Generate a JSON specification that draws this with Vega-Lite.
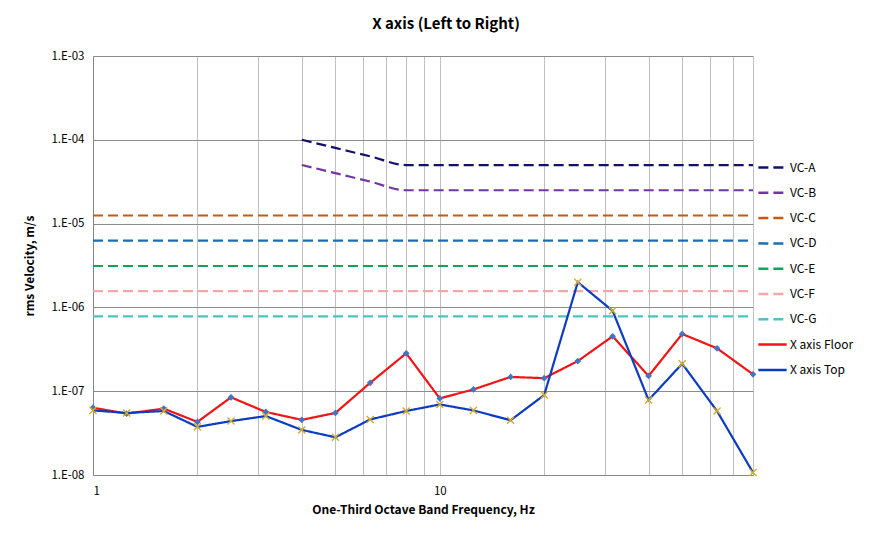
{
  "$schema": "https://vega.github.io/schema/vega-lite/v6.json",
  "description": "Vibration criteria curves with measured X axis velocities, floor and top.",
  "autosize": "none",
  "width": 660,
  "height": 419,
  "padding": {"left": 93, "top": 56, "right": 139, "bottom": 72},
  "background": "white",
  "title": {
    "text": "X axis (Left to Right)",
    "font": "Noto Sans CJK KR",
    "fontSize": 15,
    "fontWeight": "bold",
    "color": "#000000",
    "anchor": "middle",
    "dx": 23,
    "offset": 18
  },
  "config": {
    "view": {"stroke": null},
    "font": "Noto Sans CJK KR",
    "axis": {
      "labelFont": "Noto Sans CJK KR",
      "titleFont": "Noto Sans CJK KR",
      "labelColor": "#000000",
      "titleColor": "#000000",
      "labelFontSize": 11.5,
      "titleFontSize": 12,
      "titleFontWeight": "bold",
      "ticks": false,
      "domainColor": "#868686",
      "domainWidth": 1
    }
  },
  "data": {
    "values": [
      {"f": 4, "v": 1.0e-4, "s": "VC-A"},
      {"f": 5, "v": 8.0e-5, "s": "VC-A"},
      {"f": 6.3, "v": 6.35e-5, "s": "VC-A"},
      {"f": 8, "v": 5.0e-5, "s": "VC-A"},
      {"f": 10, "v": 5.0e-5, "s": "VC-A"},
      {"f": 80, "v": 5.0e-5, "s": "VC-A"},
      {"f": 4, "v": 5.0e-5, "s": "VC-B"},
      {"f": 5, "v": 4.0e-5, "s": "VC-B"},
      {"f": 6.3, "v": 3.17e-5, "s": "VC-B"},
      {"f": 8, "v": 2.5e-5, "s": "VC-B"},
      {"f": 10, "v": 2.5e-5, "s": "VC-B"},
      {"f": 80, "v": 2.5e-5, "s": "VC-B"},
      {"f": 1, "v": 1.25e-5, "s": "VC-C"},
      {"f": 80, "v": 1.25e-5, "s": "VC-C"},
      {"f": 1, "v": 6.25e-6, "s": "VC-D"},
      {"f": 80, "v": 6.25e-6, "s": "VC-D"},
      {"f": 1, "v": 3.12e-6, "s": "VC-E"},
      {"f": 80, "v": 3.12e-6, "s": "VC-E"},
      {"f": 1, "v": 1.56e-6, "s": "VC-F"},
      {"f": 80, "v": 1.56e-6, "s": "VC-F"},
      {"f": 1, "v": 7.8e-7, "s": "VC-G"},
      {"f": 80, "v": 7.8e-7, "s": "VC-G"},
      {"f": 1, "v": 6.35e-8, "s": "X axis Floor"},
      {"f": 1.25, "v": 5.4e-8, "s": "X axis Floor"},
      {"f": 1.6, "v": 6.2e-8, "s": "X axis Floor"},
      {"f": 2, "v": 4.3e-8, "s": "X axis Floor"},
      {"f": 2.5, "v": 8.45e-8, "s": "X axis Floor"},
      {"f": 3.15, "v": 5.65e-8, "s": "X axis Floor"},
      {"f": 4, "v": 4.55e-8, "s": "X axis Floor"},
      {"f": 5, "v": 5.5e-8, "s": "X axis Floor"},
      {"f": 6.3, "v": 1.26e-7, "s": "X axis Floor"},
      {"f": 8, "v": 2.83e-7, "s": "X axis Floor"},
      {"f": 10, "v": 8.2e-8, "s": "X axis Floor"},
      {"f": 12.5, "v": 1.05e-7, "s": "X axis Floor"},
      {"f": 16, "v": 1.48e-7, "s": "X axis Floor"},
      {"f": 20, "v": 1.43e-7, "s": "X axis Floor"},
      {"f": 25, "v": 2.29e-7, "s": "X axis Floor"},
      {"f": 31.5, "v": 4.52e-7, "s": "X axis Floor"},
      {"f": 40, "v": 1.52e-7, "s": "X axis Floor"},
      {"f": 50, "v": 4.82e-7, "s": "X axis Floor"},
      {"f": 63, "v": 3.25e-7, "s": "X axis Floor"},
      {"f": 80, "v": 1.59e-7, "s": "X axis Floor"},
      {"f": 1, "v": 5.9e-8, "s": "X axis Top"},
      {"f": 1.25, "v": 5.5e-8, "s": "X axis Top"},
      {"f": 1.6, "v": 5.8e-8, "s": "X axis Top"},
      {"f": 2, "v": 3.75e-8, "s": "X axis Top"},
      {"f": 2.5, "v": 4.4e-8, "s": "X axis Top"},
      {"f": 3.15, "v": 5.05e-8, "s": "X axis Top"},
      {"f": 4, "v": 3.45e-8, "s": "X axis Top"},
      {"f": 5, "v": 2.82e-8, "s": "X axis Top"},
      {"f": 6.3, "v": 4.6e-8, "s": "X axis Top"},
      {"f": 8, "v": 5.8e-8, "s": "X axis Top"},
      {"f": 10, "v": 6.95e-8, "s": "X axis Top"},
      {"f": 12.5, "v": 5.9e-8, "s": "X axis Top"},
      {"f": 16, "v": 4.5e-8, "s": "X axis Top"},
      {"f": 20, "v": 9.0e-8, "s": "X axis Top"},
      {"f": 25, "v": 2.0e-6, "s": "X axis Top"},
      {"f": 31.5, "v": 9.1e-7, "s": "X axis Top"},
      {"f": 40, "v": 7.85e-8, "s": "X axis Top"},
      {"f": 50, "v": 2.13e-7, "s": "X axis Top"},
      {"f": 63, "v": 5.8e-8, "s": "X axis Top"},
      {"f": 80, "v": 1.07e-8, "s": "X axis Top"}
    ]
  },
  "encoding": {
    "x": {
      "field": "f",
      "type": "quantitative",
      "title": "One-Third Octave Band Frequency, Hz",
      "scale": {"type": "log", "domain": [1, 80], "nice": false},
      "axis": {
        "values": [1, 2, 3, 4, 5, 6, 7, 8, 9, 10, 20, 30, 40, 50, 60, 70, 80],
        "labelExpr": "datum.value == 1 || datum.value == 10 ? toString(datum.value) : ''",
        "labelPadding": 10,
        "titlePadding": 8,
        "gridColor": "#c0c0c0",
        "gridWidth": 1
      }
    },
    "y": {
      "field": "v",
      "type": "quantitative",
      "title": "rms Velocity, m/s",
      "scale": {"type": "log", "domain": [1e-8, 1e-3], "nice": false},
      "axis": {
        "values": [1e-8, 1e-7, 1e-6, 1e-5, 1e-4, 1e-3],
        "labelExpr": "'1.E-0' + round(-log(datum.value) / LN10)",
        "labelPadding": 9,
        "titlePadding": 14,
        "gridColor": "#8c8c8c",
        "gridWidth": 1
      }
    }
  },
  "layer": [
    {
      "transform": [{"filter": "indexof(datum.s, 'VC') == 0"}],
      "mark": {"type": "line", "interpolate": "monotone", "strokeWidth": 2.2},
      "encoding": {
        "color": {"field": "s", "type": "nominal",
          "scale": {
            "domain": ["VC-A", "VC-B", "VC-C", "VC-D", "VC-E", "VC-F", "VC-G", "X axis Floor", "X axis Top"],
            "range": ["#10106e", "#7236a3", "#c55a11", "#1c6eb4", "#13a35c", "#f4a7a7", "#4cc3c3", "#f01414", "#0c3cc0"]
          },
          "legend": {
            "title": null,
            "orient": "none",
            "legendX": 664,
            "legendY": 96,
            "symbolType": "stroke",
            "symbolSize": 800,
            "symbolStrokeWidth": 2.5,
            "labelFontSize": 12,
            "labelFont": "Noto Sans CJK KR",
            "labelColor": "#000000",
            "labelOffset": 2,
            "rowPadding": 3.3
          }
        },
        "strokeDash": {"field": "s", "type": "nominal",
          "scale": {
            "domain": ["VC-A", "VC-B", "VC-C", "VC-D", "VC-E", "VC-F", "VC-G", "X axis Floor", "X axis Top"],
            "range": [[10, 5], [10, 5], [10, 5], [10, 5], [10, 5], [10, 5], [10, 5], [1, 0], [1, 0]]
          }
        },
        "detail": {"field": "s"}
      }
    },
    {
      "transform": [{"filter": "datum.s == 'X axis Floor'"}],
      "mark": {"type": "line", "strokeWidth": 2.2},
      "encoding": {
        "color": {"field": "s", "type": "nominal"},
        "strokeDash": {"field": "s", "type": "nominal"}
      }
    },
    {
      "transform": [{"filter": "datum.s == 'X axis Floor'"}],
      "mark": {"type": "point", "shape": "diamond", "filled": true, "size": 45, "color": "#4472c4", "opacity": 1},
      "encoding": {}
    },
    {
      "transform": [{"filter": "datum.s == 'X axis Top'"}],
      "mark": {"type": "line", "strokeWidth": 2.2},
      "encoding": {
        "color": {"field": "s", "type": "nominal"},
        "strokeDash": {"field": "s", "type": "nominal"}
      }
    },
    {
      "transform": [{"filter": "datum.s == 'X axis Top'"}],
      "mark": {"type": "point", "shape": "M-1,-1L1,1M-1,1L1,-1", "filled": false, "size": 50, "stroke": "#d4ac2c", "strokeWidth": 1.4, "opacity": 1},
      "encoding": {}
    }
  ]
}
